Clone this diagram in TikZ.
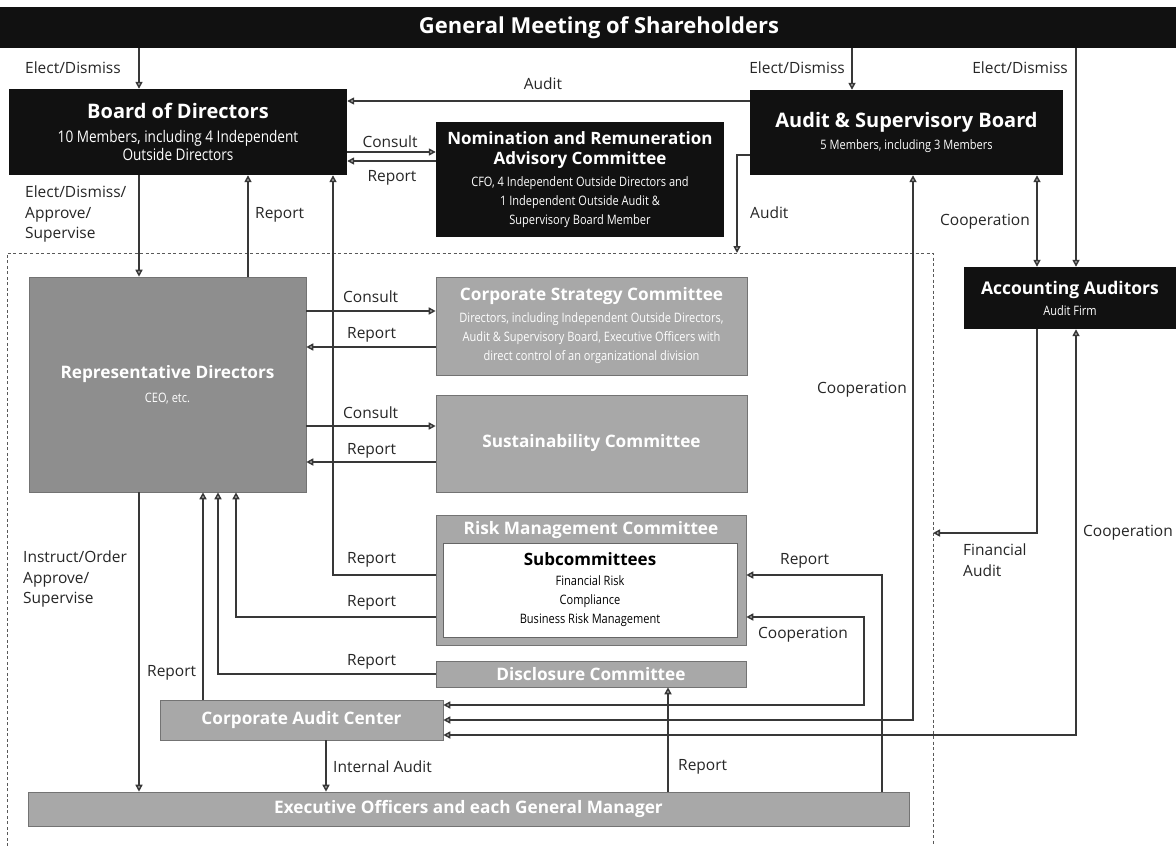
\documentclass[tikz,border=0pt]{standalone}
\usepackage{fontspec}
\setmainfont{Open Sans}
\newfontfamily\condfont[FakeStretch=0.85]{Open Sans}
\usetikzlibrary{arrows.meta}
\definecolor{boxblack}{HTML}{111111}
\definecolor{grayA}{HTML}{8E8E8E}
\definecolor{grayB}{HTML}{A8A8A8}
\definecolor{lineC}{HTML}{383838}
\newcommand\ttlfont{\fontsize{20}{22}\selectfont\bfseries}
\newcommand\gttlfont{\fontsize{17.2}{21}\selectfont\bfseries}
\newcommand\mysubfont{\condfont\fontsize{13}{18}\selectfont}
\newcommand\bigsubfont{\condfont\fontsize{16}{18}\selectfont}
\tikzset{
  bbox/.style={fill=boxblack, text=white, inner sep=0pt, align=center},
  gbox/.style={fill=grayB, draw=black!55, line width=0.6pt, text=white, inner sep=0pt, align=center},
  arr/.style={draw=lineC, line width=1.6pt, -{Triangle[open,length=7pt,width=7pt]}},
  darr/.style={draw=lineC, line width=1.6pt, {Triangle[open,length=7pt,width=7pt]}-{Triangle[open,length=7pt,width=7pt]}},
  lbl/.style={font=\fontsize{15.5}{20.5}\selectfont, text=black!85, inner sep=0pt, align=left},
  dashbox/.style={draw=black!65, line width=0.8pt, dash pattern=on 3pt off 2.5pt},
}
\begin{document}
\begin{tikzpicture}[x=1pt,y=-1pt]
\useasboundingbox (0,0) rectangle (1176,846);
\fill[white] (0,0) rectangle (1176,846);

% helper coordinates
\foreach \xx in {139,248,333,852,1076,1037,913,203,218,236,326,668,882,864}{\coordinate (X\xx) at (\xx,0);}
\foreach \yy in {101,152,161,155,311,347,426,462,575,617,705,720,735}{\coordinate (Y\yy) at (0,\yy);}
\coordinate (dtop) at (737,253);
\coordinate (dright) at (933,533);

% dashed region
\draw[dashbox] (7,846) -- (7,253) -- (933,253) -- (933,846);

% boxes
\node[bbox, minimum width=1176pt, minimum height=41pt] (gm) at (588,27.5)
  {\hspace*{22pt}\fontsize{22}{24}\selectfont\bfseries General Meeting of Shareholders};
\node[bbox, font=\fontsize{12}{18}\selectfont, minimum width=338pt, minimum height=86pt] (board) at (178,132)
  {\ttlfont Board of Directors\\[6pt]\bigsubfont 10 Members, including 4 Independent\\\bigsubfont Outside Directors};
\node[bbox, font=\fontsize{12}{19}\selectfont, minimum width=288pt, minimum height=115pt] (nrac) at (580,179.5)
  {\fontsize{17}{20}\selectfont\bfseries Nomination and Remuneration\\[1pt]\fontsize{17}{20}\selectfont\bfseries Advisory Committee\\[3pt]\mysubfont CFO, 4 Independent Outside Directors and\\\mysubfont 1 Independent Outside Audit \&\\\mysubfont Supervisory Board Member};
\node[bbox, font=\fontsize{12}{18}\selectfont, minimum width=313pt, minimum height=85pt] (asb) at (906.5,132.5)
  {\ttlfont Audit \& Supervisory Board\\[4pt]\mysubfont 5 Members, including 3 Members};
\node[bbox, font=\fontsize{12}{18}\selectfont, minimum width=212pt, minimum height=62pt] (aa) at (1070,298)
  {\fontsize{17.5}{20}\selectfont\bfseries Accounting Auditors\\[3pt]\mysubfont Audit Firm};

\node[gbox, fill=grayA, font=\fontsize{12}{19}\selectfont, minimum width=277pt, minimum height=215pt] (rep) at (167.5,384.5)
  {\gttlfont Representative Directors\\[5pt]\mysubfont CEO, etc.};
\node[gbox, font=\fontsize{12}{19}\selectfont, minimum width=311pt, minimum height=98pt] (csc) at (591.5,326)
  {\gttlfont Corporate Strategy Committee\\[3pt]\mysubfont Directors, including Independent Outside Directors,\\\mysubfont Audit \& Supervisory Board, Executive Officers with\\\mysubfont direct control of an organizational division};
\node[gbox, minimum width=311pt, minimum height=97pt] (sust) at (591.5,443.5)
  {\gttlfont Sustainability Committee};
\node[gbox, minimum width=310pt, minimum height=130pt] (risk) at (591,580) {};
\node[inner sep=0pt, text=white, font=\gttlfont] (risktitle) at (591,530) {Risk Management Committee};
\node[fill=white, draw=black!60, line width=0.6pt, minimum width=294pt, minimum height=94pt, inner sep=0pt, align=center, font=\fontsize{12}{19}\selectfont] (subc) at (590,590)
  {\fontsize{17}{20}\selectfont\bfseries Subcommittees\\[1pt]\mysubfont Financial Risk\\\mysubfont Compliance\\\mysubfont Business Risk Management};
\node[gbox, minimum width=310pt, minimum height=26pt] (disc) at (591,674)
  {\gttlfont Disclosure Committee};
\node[gbox, minimum width=283pt, minimum height=40pt] (cac) at (301.5,720)
  {\gttlfont Corporate Audit Center};
\node[gbox, minimum width=881pt, minimum height=34pt] (exec) at (468.5,809)
  {\gttlfont Executive Officers and each General Manager};

% connectors
\draw[arr] (gm.south -| X139) -- (board.north -| X139);
\draw[arr] (gm.south -| X852) -- (asb.north -| X852);
\draw[arr] (gm.south -| X1076) -- (aa.north -| X1076);
\draw[arr] (asb.west |- Y101) -- (board.east |- Y101);
\draw[arr] (board.east |- Y152) -- (nrac.west |- Y152);
\draw[arr] (nrac.west |- Y161) -- (board.east |- Y161);
\draw[arr] (asb.west |- Y155) -| (dtop);
\draw[darr] (asb.south -| X1037) -- (aa.north -| X1037);
\draw[arr] (board.south -| X139) -- (rep.north -| X139);
\draw[arr] (rep.north -| X248) -- (board.south -| X248);
\draw[arr] (rep.east |- Y311) -- (csc.west |- Y311);
\draw[arr] (csc.west |- Y347) -- (rep.east |- Y347);
\draw[arr] (rep.east |- Y426) -- (sust.west |- Y426);
\draw[arr] (sust.west |- Y462) -- (rep.east |- Y462);
\draw[arr] (risk.west |- Y575) -| (board.south -| X333);
\draw[arr] (risk.west |- Y617) -| (rep.south -| X236);
\draw[arr] (disc.west) -| (rep.south -| X218);
\draw[arr] (cac.north -| X203) -- (rep.south -| X203);
\draw[arr] (rep.south -| X139) -- (exec.north -| X139);
\draw[arr] (cac.south -| X326) -- (exec.north -| X326);
\draw[arr] (exec.north -| X668) -- (disc.south -| X668);
\draw[arr] (exec.north -| X882) |- (risk.east |- Y575);
\draw[darr] (risk.east |- Y617) -| (X864 |- Y705) -- (cac.east |- Y705);
\draw[darr] (asb.south -| X913) |- (cac.east |- Y720);
\draw[darr] (aa.south -| X1076) |- (cac.east |- Y735);
\draw[arr] (aa.south -| X1037) |- (dright);

% labels
\node[lbl, anchor=west] (l1) at (25,68) {Elect/Dismiss};
\node[lbl] (l2) at (543,84) {Audit};
\node[lbl, anchor=east] (l3) at (845,68) {Elect/Dismiss};
\node[lbl, anchor=east] (l4) at (1068,68) {Elect/Dismiss};
\node[lbl] (l5) at (390,142) {Consult};
\node[lbl] (l6) at (392,178) {Report};
\node[lbl, anchor=north west] (l7) at (25,186) {Elect/Dismiss/\\Approve/\\Supervise};
\node[lbl, anchor=west] (l8) at (255,215) {Report};
\node[lbl, anchor=west] (l9) at (750,213) {Audit};
\node[lbl, anchor=east] (l10) at (1030,222) {Cooperation};
\node[lbl, anchor=west] (l11) at (343,297) {Consult};
\node[lbl, anchor=west] (l12) at (347,335) {Report};
\node[lbl, anchor=west] (l13) at (343,413) {Consult};
\node[lbl, anchor=west] (l14) at (347,451) {Report};
\node[lbl, anchor=east] (l15) at (907,390) {Cooperation};
\node[lbl, anchor=north west] (l16) at (963,544) {Financial\\Audit};
\node[lbl, anchor=west] (l17) at (1083,533) {Cooperation};
\node[lbl, anchor=west] (l18) at (347,560) {Report};
\node[lbl, anchor=west] (l19) at (347,603) {Report};
\node[lbl, anchor=west] (l20) at (347,662) {Report};
\node[lbl, anchor=west] (l21) at (780,561) {Report};
\node[lbl, anchor=west] (l22) at (758,635) {Cooperation};
\node[lbl, anchor=north west] (l23) at (23,551) {Instruct/Order\\Approve/\\Supervise};
\node[lbl, anchor=west] (l24) at (147,673) {Report};
\node[lbl, anchor=west] (l25) at (333,767) {Internal Audit};
\node[lbl, anchor=west] (l26) at (678,767) {Report};
\end{tikzpicture}
\end{document}
